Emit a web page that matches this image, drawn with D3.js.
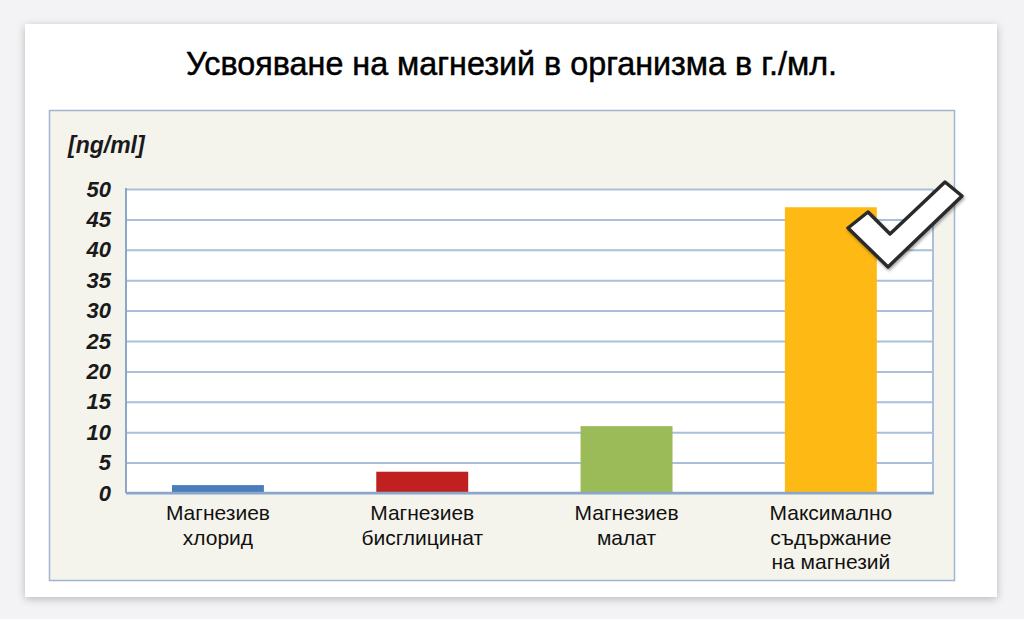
<!DOCTYPE html>
<html>
<head>
<meta charset="utf-8">
<script src="https://cdn.jsdelivr.net/npm/d3@7"></script>
<style>
  html, body { margin: 0; padding: 0; background: #f3f3f5; }
  svg { display: block; }
</style>
</head>
<body>
<div id="chart"></div>
<script>
var categories = [
  ["Магнезиев", "хлорид"],
  ["Магнезиев", "бисглицинат"],
  ["Магнезиев", "малат"],
  ["Максимално", "съдържание", "на магнезий"]
];
var values = [1.3, 3.5, 11, 47];
var colors = ["#4a7ebb", "#c0201f", "#9bbb59", "#ffb914"];
var yTicks = [0, 5, 10, 15, 20, 25, 30, 35, 40, 45, 50];
var title = "Усвояване на магнезий в организма в г./мл.";
var unit = "[ng/ml]";

var W = 1024, H = 619;
var plot = { left: 126, right: 933, top: 189, bottom: 493 };

var svg = d3.select("#chart").append("svg")
    .attr("width", W)
    .attr("height", H);

var defs = svg.append("defs");
var sh = defs.append("filter").attr("id", "shadow")
    .attr("x", "-5%").attr("y", "-5%").attr("width", "110%").attr("height", "112%");
sh.append("feGaussianBlur").attr("in", "SourceAlpha").attr("stdDeviation", 4);
sh.append("feOffset").attr("dx", 0).attr("dy", 2).attr("result", "b");
sh.append("feComponentTransfer").append("feFuncA").attr("type", "linear").attr("slope", 0.25);
var m = sh.append("feMerge");
m.append("feMergeNode");
m.append("feMergeNode").attr("in", "SourceGraphic");

var cs = defs.append("filter").attr("id", "checkshadow");
cs.append("feGaussianBlur").attr("in", "SourceAlpha").attr("stdDeviation", 1.5);
cs.append("feOffset").attr("dx", 1).attr("dy", 2);
cs.append("feComponentTransfer").append("feFuncA").attr("type", "linear").attr("slope", 0.35);
var m2 = cs.append("feMerge");
m2.append("feMergeNode");
m2.append("feMergeNode").attr("in", "SourceGraphic");

// card
svg.append("rect")
    .attr("x", 25).attr("y", 24).attr("width", 972).attr("height", 573)
    .attr("fill", "#ffffff")
    .attr("filter", "url(#shadow)");

// title, squeezed like a narrow face
svg.append("text")
    .attr("x", 186).attr("y", 75)
    .attr("textLength", 651)
    .attr("lengthAdjust", "spacingAndGlyphs")
    .style("font-family", "'Liberation Sans', Arial, sans-serif")
    .style("font-size", "34px")
    .attr("fill", "#000")
    .attr("stroke", "#000")
    .attr("stroke-width", 0.5)
    .text(title);

// inner panel
svg.append("rect")
    .attr("x", 49.5).attr("y", 110.5).attr("width", 905).attr("height", 470)
    .attr("fill", "#f5f4ec")
    .attr("stroke", "#9fb5d0")
    .attr("stroke-width", 1.5);

var x = d3.scaleBand()
    .domain(d3.range(categories.length))
    .range([plot.left, plot.right])
    .paddingInner(0.55)
    .paddingOuter(0.25)
    .align(0.45);

var y = d3.scaleLinear()
    .domain([0, 50])
    .range([plot.bottom, plot.top]);

var g = svg.append("g");

g.append("rect")
    .attr("x", plot.left).attr("y", plot.top)
    .attr("width", plot.right - plot.left).attr("height", plot.bottom - plot.top)
    .attr("fill", "#ffffff");

var yAxis = d3.axisLeft(y)
    .tickValues(yTicks)
    .tickSize(-(plot.right - plot.left))
    .tickPadding(15);

var ya = g.append("g")
    .attr("transform", "translate(" + plot.left + ",0)")
    .call(yAxis);
ya.select(".domain").remove();
ya.selectAll(".tick line")
    .attr("stroke", "#a9bfdb")
    .attr("stroke-width", 2);
ya.selectAll(".tick text")
    .style("font-family", "'Liberation Sans', Arial, sans-serif")
    .style("font-size", "22px")
    .style("font-weight", "bold")
    .style("font-style", "italic")
    .attr("fill", "#1a1a1a");

// plot frame
g.append("line")
    .attr("x1", plot.right).attr("x2", plot.right)
    .attr("y1", plot.top).attr("y2", plot.bottom)
    .attr("stroke", "#a9bfdb").attr("stroke-width", 2);
g.append("line")
    .attr("x1", plot.left).attr("x2", plot.left)
    .attr("y1", plot.top - 1).attr("y2", plot.bottom)
    .attr("stroke", "#8aa6c8").attr("stroke-width", 2);

g.selectAll("rect.bar")
    .data(values)
    .enter().append("rect")
    .attr("class", "bar")
    .attr("x", function(d, i) { return x(i); })
    .attr("width", x.bandwidth())
    .attr("y", function(d) { return y(d); })
    .attr("height", function(d) { return y(0) - y(d); })
    .attr("fill", function(d, i) { return colors[i]; });

g.append("line")
    .attr("x1", plot.left).attr("x2", plot.right + 1)
    .attr("y1", plot.bottom).attr("y2", plot.bottom)
    .attr("stroke", "#8aa6c8").attr("stroke-width", 2.5);

// category labels
g.selectAll("text.cat")
    .data(categories)
    .enter().append("text")
    .attr("class", "cat")
    .attr("text-anchor", "middle")
    .style("font-family", "'Liberation Sans', Arial, sans-serif")
    .style("font-size", "21px")
    .attr("fill", "#111")
    .each(function(lines, i) {
        var t = d3.select(this);
        lines.forEach(function(s, j) {
            t.append("tspan")
                .attr("x", x(i) + x.bandwidth() / 2)
                .attr("y", 520 + j * 24.5)
                .text(s);
        });
    });

// unit label
svg.append("text")
    .attr("x", 68).attr("y", 153)
    .style("font-family", "'Liberation Sans', Arial, sans-serif")
    .style("font-size", "23px")
    .style("font-weight", "bold")
    .style("font-style", "italic")
    .attr("fill", "#1a1a1a")
    .text(unit);

// check mark over last bar
var check = [[868, 212], [890, 234], [945, 182], [962, 196], [888, 267], [848, 228]];
svg.append("path")
    .attr("d", d3.line()(check) + "Z")
    .attr("fill", "#ffffff")
    .attr("stroke", "#2b2b2b")
    .attr("stroke-width", 3.5)
    .attr("stroke-linejoin", "round")
    .attr("filter", "url(#checkshadow)");
</script>
</body>
</html>
